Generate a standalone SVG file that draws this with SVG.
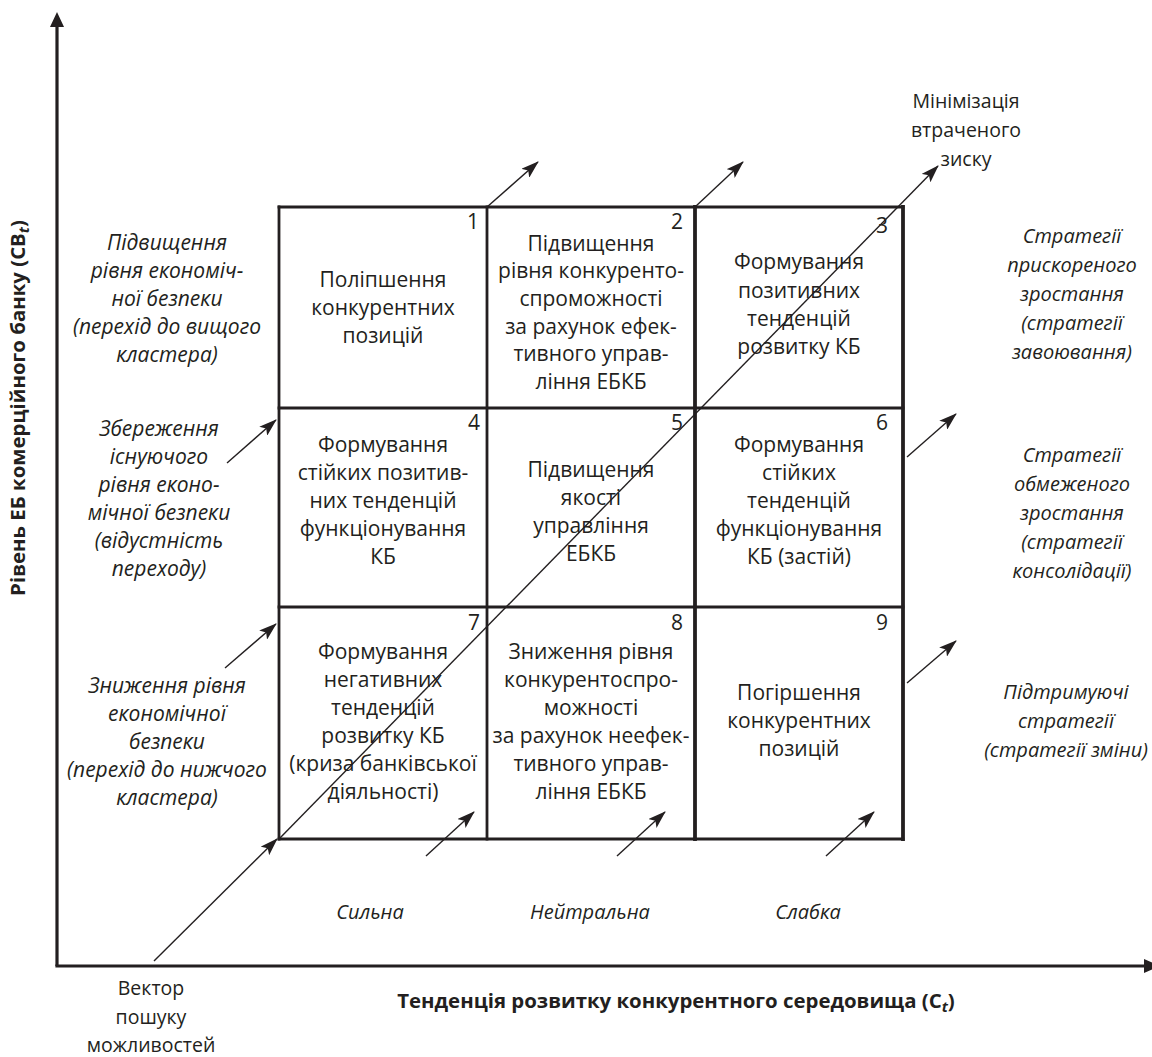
<svg xmlns="http://www.w3.org/2000/svg" width="1152" height="1057" viewBox="0 0 1152 1057">
<defs>
<style>
text{font-family:"Open Sans","Noto Sans","Liberation Sans",sans-serif;fill:#231f20}
.c{font-size:21px;text-anchor:middle}
.n{font-size:21px;text-anchor:end}
.i{font-size:21px;font-style:italic;text-anchor:middle}
.ir{font-size:20px;font-style:italic;text-anchor:middle}
.r{font-size:19.5px;text-anchor:middle}
.b{font-size:20.4px;font-weight:bold;text-anchor:middle}
.g{fill:none;stroke:#231f20;stroke-width:2.8;stroke-linecap:square}
.gt{fill:none;stroke:#231f20;stroke-width:3.8;stroke-linecap:square}
.ax{fill:none;stroke:#231f20;stroke-width:3.2}
.a{fill:none;stroke:#231f20;stroke-width:1.4;marker-end:url(#ah)}
</style>
<marker id="ah" markerUnits="userSpaceOnUse" viewBox="0 0 18 12" refX="17" refY="6" markerWidth="18" markerHeight="12" orient="auto">
<path d="M0,0 L18,6 L0,12 L4,6 Z" fill="#231f20"/>
</marker>
</defs>
<rect width="1152" height="1057" fill="#fff"/>

<g id="axes">
<line class="ax" x1="57" y1="966" x2="57" y2="24"/>
<polygon points="50,27 57,12 64,27" fill="#231f20"/>
<line class="ax" x1="55.4" y1="966" x2="1146" y2="966"/>
<polygon points="1144,959 1160,966 1144,973" fill="#231f20"/>
<text class="b" transform="translate(25,408) rotate(-90)">Рівень ЕБ комерційного банку (CB<tspan font-style="italic" font-size="15" dy="4">t</tspan><tspan dy="-4">)</tspan></text>
<text class="b" x="676" y="1008">Тенденція розвитку конкурентного середовища (C<tspan font-style="italic" font-size="15" dy="4">t</tspan><tspan dy="-4">)</tspan></text>
</g>

<g id="grid">
<line class="g" x1="279" y1="207" x2="903" y2="207"/>
<line class="g" x1="279" y1="408" x2="903" y2="408"/>
<line class="g" x1="279" y1="607" x2="903" y2="607"/>
<line class="g" x1="279" y1="839" x2="903" y2="839"/>
<line class="g" x1="279" y1="207" x2="279" y2="839"/>
<line class="g" x1="487" y1="207" x2="487" y2="839"/>
<line class="gt" x1="695" y1="207" x2="695" y2="839"/>
<line class="gt" x1="903" y1="207" x2="903" y2="839"/>
</g>

<g id="connectors">
<line class="a" x1="154" y1="961" x2="277" y2="839"/>
<line class="a" x1="279" y1="839" x2="938" y2="166"/>
<line class="a" x1="487" y1="207" x2="538" y2="162"/>
<line class="a" x1="695" y1="207" x2="743" y2="162"/>
<line class="a" x1="227" y1="463" x2="276" y2="420"/>
<line class="a" x1="225" y1="668" x2="276" y2="624"/>
<line class="a" x1="426" y1="856" x2="474" y2="812"/>
<line class="a" x1="617" y1="856" x2="665" y2="812"/>
<line class="a" x1="826" y1="856" x2="874" y2="812"/>
<line class="a" x1="907" y1="457" x2="956" y2="414"/>
<line class="a" x1="907" y1="683" x2="956" y2="641"/>
</g>

<g id="cell1">
<text class="n" x="479" y="229">1</text>
<text class="c" x="383" y="287">Поліпшення</text>
<text class="c" x="383" y="315">конкурентних</text>
<text class="c" x="383" y="343">позицій</text>
</g>
<g id="cell2">
<text class="n" x="683" y="229">2</text>
<text class="c" x="591" y="251">Підвищення</text>
<text class="c" x="591" y="278">рівня конкуренто-</text>
<text class="c" x="591" y="306">спроможності</text>
<text class="c" x="591" y="334">за рахунок ефек-</text>
<text class="c" x="591" y="361">тивного управ-</text>
<text class="c" x="591" y="389">ління ЕБКБ</text>
</g>
<g id="cell3">
<text class="n" x="888" y="233">3</text>
<text class="c" x="799" y="269">Формування</text>
<text class="c" x="799" y="298">позитивних</text>
<text class="c" x="799" y="326">тенденцій</text>
<text class="c" x="799" y="354">розвитку КБ</text>
</g>
<g id="cell4">
<text class="n" x="480" y="430">4</text>
<text class="c" x="383" y="452">Формування</text>
<text class="c" x="383" y="480">стійких позитив-</text>
<text class="c" x="383" y="508">них тенденцій</text>
<text class="c" x="383" y="536">функціонування</text>
<text class="c" x="383" y="564">КБ</text>
</g>
<g id="cell5">
<text class="n" x="683" y="430">5</text>
<text class="c" x="591" y="477">Підвищення</text>
<text class="c" x="591" y="505">якості</text>
<text class="c" x="591" y="533">управління</text>
<text class="c" x="591" y="561">ЕБКБ</text>
</g>
<g id="cell6">
<text class="n" x="888" y="430">6</text>
<text class="c" x="799" y="452">Формування</text>
<text class="c" x="799" y="480">стійких</text>
<text class="c" x="799" y="508">тенденцій</text>
<text class="c" x="799" y="536">функціонування</text>
<text class="c" x="799" y="564">КБ (застій)</text>
</g>
<g id="cell7">
<text class="n" x="480" y="630">7</text>
<text class="c" x="383" y="659">Формування</text>
<text class="c" x="383" y="687">негативних</text>
<text class="c" x="383" y="715">тенденцій</text>
<text class="c" x="383" y="743">розвитку КБ</text>
<text class="c" x="383" y="771">(криза банківської</text>
<text class="c" x="383" y="799">діяльності)</text>
</g>
<g id="cell8">
<text class="n" x="683" y="630">8</text>
<text class="c" x="591" y="659">Зниження рівня</text>
<text class="c" x="591" y="687">конкурентоспро-</text>
<text class="c" x="591" y="715">можності</text>
<text class="c" x="591" y="743">за рахунок неефек-</text>
<text class="c" x="591" y="771">тивного управ-</text>
<text class="c" x="591" y="799">ління ЕБКБ</text>
</g>
<g id="cell9">
<text class="n" x="888" y="630">9</text>
<text class="c" x="799" y="700">Погіршення</text>
<text class="c" x="799" y="728">конкурентних</text>
<text class="c" x="799" y="756">позицій</text>
</g>

<g id="left-up">
<text class="i" x="167" y="250">Підвищення</text>
<text class="i" x="167" y="278">рівня економіч-</text>
<text class="i" x="167" y="306">ної безпеки</text>
<text class="i" x="167" y="334">(перехід до вищого</text>
<text class="i" x="167" y="362">кластера)</text>
</g>
<g id="left-keep">
<text class="i" x="159" y="436">Збереження</text>
<text class="i" x="159" y="464">існуючого</text>
<text class="i" x="159" y="492">рівня еконо-</text>
<text class="i" x="159" y="520">мічної безпеки</text>
<text class="i" x="159" y="548">(відустність</text>
<text class="i" x="159" y="576">переходу)</text>
</g>
<g id="left-down">
<text class="i" x="167" y="693">Зниження рівня</text>
<text class="i" x="167" y="721">економічної</text>
<text class="i" x="167" y="749">безпеки</text>
<text class="i" x="167" y="777">(перехід до нижчого</text>
<text class="i" x="167" y="805">кластера)</text>
</g>

<g id="right-1">
<text class="ir" x="1072" y="243">Стратегії</text>
<text class="ir" x="1072" y="272">прискореного</text>
<text class="ir" x="1072" y="301">зростання</text>
<text class="ir" x="1072" y="330">(стратегії</text>
<text class="ir" x="1072" y="359">завоювання)</text>
</g>
<g id="right-2">
<text class="ir" x="1072" y="462">Стратегії</text>
<text class="ir" x="1072" y="491">обмеженого</text>
<text class="ir" x="1072" y="520">зростання</text>
<text class="ir" x="1072" y="549">(стратегії</text>
<text class="ir" x="1072" y="578">консолідації)</text>
</g>
<g id="right-3">
<text class="ir" x="1066" y="699">Підтримуючі</text>
<text class="ir" x="1066" y="728">стратегії</text>
<text class="ir" x="1066" y="757">(стратегії зміни)</text>
</g>

<g id="minimize">
<text class="r" x="966" y="108">Мінімізація</text>
<text class="r" x="966" y="137">втраченого</text>
<text class="r" x="966" y="166">зиску</text>
</g>
<g id="vector">
<text class="r" x="151" y="995">Вектор</text>
<text class="r" x="151" y="1024">пошуку</text>
<text class="r" x="151" y="1052">можливостей</text>
</g>
<g id="bottom-labels">
<text class="ir" x="370" y="919">Сильна</text>
<text class="ir" x="590" y="919">Нейтральна</text>
<text class="ir" x="808" y="919">Слабка</text>
</g>
</svg>
